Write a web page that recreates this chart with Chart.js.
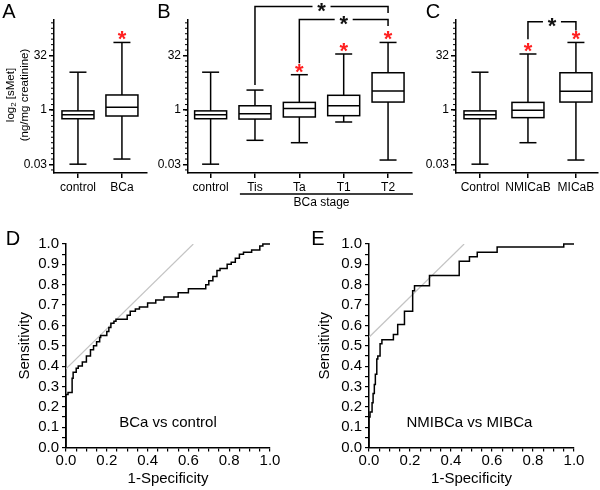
<!DOCTYPE html>
<html>
<head>
<meta charset="utf-8">
<script src="https://cdn.jsdelivr.net/npm/chart.js@4.4.1/dist/chart.umd.min.js"></script>
<style>
  html, body { margin: 0; padding: 0; background: #fff; }
  #fig { position: relative; width: 600px; height: 490px; overflow: hidden; }
  #fig canvas { position: absolute; }
</style>
</head>
<body>
<div id="fig">
  <canvas id="chartA" width="150" height="215" style="left:0;top:0"></canvas>
  <canvas id="chartB" width="282" height="215" style="left:140px;top:0"></canvas>
  <canvas id="chartC" width="176" height="215" style="left:424px;top:0"></canvas>
  <canvas id="chartD" width="300" height="265" style="left:0;top:225px"></canvas>
  <canvas id="chartE" width="300" height="265" style="left:300px;top:225px"></canvas>
</div>
<script>
// sMet in log2 units of ng/mg creatinine, each box = [min, q1, median, q3, max]
const controlBox = [-4.97, -0.8, -0.43, -0.08, 3.47];

const catsA = ['control', 'BCa'];
const boxesA = [controlBox, [-4.5, -0.55, 0.25, 1.38, 6.2]];
const starsA = [1]; // red asterisk = different from control

const catsB = ['control', 'Tis', 'Ta', 'T1', 'T2'];
const boxesB = [
    controlBox,
    [-2.78, -0.83, -0.34, 0.39, 1.83],
    [-3.0, -0.64, 0.15, 0.7, 3.24],
    [-1.1, -0.52, 0.39, 1.35, 5.14],
    [-4.59, 0.73, 1.74, 3.42, 6.2]
];
const starsB = [2, 3, 4];

const catsC = ['Control', 'NMICaB', 'MICaB'];
const boxesC = [
    controlBox,
    [-3.0, -0.7, -0.03, 0.7, 5.14],
    [-4.59, 0.73, 1.72, 3.42, 6.2]
];
const starsC = [1, 2];

// tick labels of the log2 axis (ng/mg)
const yTickValues = [0.03, 1, 32];

// pairwise comparisons: from, to, bracket level, left foot, right foot (log2 units)
const bracketsB = [
    { from: 1, to: 4, level: 9.5, footL: 2.3, footR: 8.9 },
    { from: 2, to: 4, level: 8.3, footL: 4.3, footR: 7.7 }
];
const bracketsC = [
    { from: 1, to: 2, level: 8.1, footL: 6.5, footR: 7.3 }
];

// ROC curves (1-specificity, sensitivity)
const fprD = [0, 0, 0.01, 0.03, 0.035, 0.05, 0.06, 0.08, 0.10, 0.12, 0.135, 0.15, 0.165, 0.17, 0.20, 0.21, 0.22, 0.235, 0.245, 0.30, 0.315, 0.34, 0.36, 0.40, 0.44, 0.48, 0.55, 0.60, 0.62, 0.685, 0.70, 0.72, 0.74, 0.755, 0.79, 0.81, 0.83, 0.85, 0.87, 0.91, 0.95, 0.965, 0.97, 1.0];
const tprD = [0, 0.07, 0.26, 0.27, 0.34, 0.37, 0.39, 0.40, 0.42, 0.45, 0.48, 0.50, 0.52, 0.54, 0.55, 0.57, 0.59, 0.61, 0.62, 0.63, 0.65, 0.67, 0.68, 0.69, 0.71, 0.725, 0.74, 0.76, 0.78, 0.78, 0.80, 0.82, 0.84, 0.87, 0.88, 0.90, 0.91, 0.93, 0.95, 0.96, 0.97, 0.99, 1.0, 1.0];
const refD = { x: [0, 0.624], y: [0.387, 1.0] };

const fprE = [0, 0, 0.005, 0.015, 0.02, 0.026, 0.031, 0.038, 0.043, 0.054, 0.063, 0.119, 0.14, 0.173, 0.213, 0.222, 0.295, 0.44, 0.49, 0.528, 0.625, 0.95, 1.0];
const tprE = [0, 0.076, 0.15, 0.175, 0.22, 0.265, 0.31, 0.36, 0.435, 0.45, 0.51, 0.53, 0.555, 0.605, 0.67, 0.77, 0.795, 0.845, 0.915, 0.937, 0.96, 0.985, 1.0];
const refE = { x: [0, 0.464], y: [0.542, 1.0] };

const FONT = '"Liberation Sans", Arial, Helvetica, sans-serif';
Chart.defaults.font.family = FONT;
Chart.defaults.color = '#000';

const Y_MIN = -5.78, Y_MAX = 8.26;
const BOX_HALF = 16, CAP_HALF = 8.5, STAR_GAP = 6.5;

function line(ctx, x1, y1, x2, y2) {
    ctx.beginPath();
    ctx.moveTo(x1, y1);
    ctx.lineTo(x2, y2);
    ctx.stroke();
}

function star(ctx, x, y, color) {
    ctx.font = 'bold 22px ' + FONT;
    ctx.fillStyle = color;
    ctx.textAlign = 'center';
    ctx.textBaseline = 'alphabetic';
    const m = ctx.measureText('*');
    ctx.fillText('*', x, y + (m.actualBoundingBoxAscent - m.actualBoundingBoxDescent) / 2);
}

function letter(ctx, txt, x, y) {
    ctx.font = '20px ' + FONT;
    ctx.fillStyle = '#000';
    ctx.textAlign = 'center';
    ctx.textBaseline = 'middle';
    ctx.fillText(txt, x, y);
}

function makeBoxChart(id, cats, boxes, stars, brackets, g, decorate) {
    return new Chart(document.getElementById(id), {
        type: 'scatter',
        data: { datasets: [] },
        options: {
            responsive: false,
            animation: false,
            devicePixelRatio: 1,
            layout: { padding: { top: 20, right: g.padRight, left: 0, bottom: 0 } },
            plugins: { legend: { display: false }, tooltip: { enabled: false } },
            scales: {
                x: {
                    type: 'linear', min: g.xMin, max: g.xMax,
                    afterFit: s => { s.height = 42; },
                    afterBuildTicks: s => { s.ticks = cats.map((c, i) => ({ value: i })); },
                    ticks: { callback: (v, i) => cats[i], font: { size: 12 }, padding: 2, maxRotation: 0, autoSkip: false },
                    grid: { drawOnChartArea: false, tickLength: 5, color: '#000', lineWidth: 1.5 },
                    border: { color: '#000', width: 1.5 }
                },
                y: {
                    type: 'linear', min: Y_MIN, max: Y_MAX,
                    afterFit: s => { s.width = g.yW; },
                    afterBuildTicks: s => { s.ticks = yTickValues.map(v => ({ value: Math.log2(v) })); },
                    ticks: { callback: (v, i) => String(yTickValues[i]), font: { size: 12 }, padding: 2 },
                    grid: { drawOnChartArea: false, tickLength: 5, color: '#000', lineWidth: 1.5 },
                    border: { color: '#000', width: 1.5 }
                }
            }
        },
        plugins: [{
            id: 'boxes',
            afterDraw(chart) {
                const { ctx, chartArea: ca, scales: { x, y } } = chart;
                ctx.save();
                ctx.strokeStyle = '#000';
                // minor ticks of the log2 axis
                ctx.lineWidth = 1;
                for (let v = -5.5; v <= 8; v += 0.5) {
                    const py = y.getPixelForValue(v);
                    line(ctx, ca.left - 3, py, ca.left, py);
                }
                ctx.lineWidth = 1.5;
                boxes.forEach((b, i) => {
                    const cx = x.getPixelForValue(i);
                    const [lo, q1, med, q3, hi] = b.map(v => y.getPixelForValue(v));
                    line(ctx, cx, hi, cx, q3);
                    line(ctx, cx, q1, cx, lo);
                    line(ctx, cx - CAP_HALF, hi, cx + CAP_HALF, hi);
                    line(ctx, cx - CAP_HALF, lo, cx + CAP_HALF, lo);
                    ctx.strokeRect(cx - BOX_HALF, q3, BOX_HALF * 2, q1 - q3);
                    line(ctx, cx - BOX_HALF, med, cx + BOX_HALF, med);
                });
                stars.forEach(i => {
                    star(ctx, x.getPixelForValue(i), y.getPixelForValue(boxes[i][4]) - STAR_GAP, '#ff2020');
                });
                brackets.forEach(b => {
                    const xl = x.getPixelForValue(b.from), xr = x.getPixelForValue(b.to);
                    const yt = y.getPixelForValue(b.level), xm = (xl + xr) / 2;
                    ctx.strokeStyle = '#000';
                    ctx.lineWidth = 1.5;
                    ctx.beginPath();
                    ctx.moveTo(xl, y.getPixelForValue(b.footL));
                    ctx.lineTo(xl, yt);
                    ctx.lineTo(xm - 9, yt);
                    ctx.stroke();
                    ctx.beginPath();
                    ctx.moveTo(xm + 9, yt);
                    ctx.lineTo(xr, yt);
                    ctx.lineTo(xr, y.getPixelForValue(b.footR));
                    ctx.stroke();
                    star(ctx, xm, yt + 1, '#111');
                });
                letter(ctx, g.letter, g.lx, 12);
                if (decorate) decorate(ctx, chart);
                ctx.restore();
            }
        }]
    });
}

function makeRocChart(id, fpr, tpr, ref, note, g) {
    const isStep = (v, s) => Math.abs(v / s - Math.round(v / s)) < 1e-6;
    const rocTicks = () => { const t = []; for (let i = 0; i <= 20; i++) t.push({ value: i / 20 }); return t; };
    return new Chart(document.getElementById(id), {
        type: 'line',
        data: {
            datasets: [
                {
                    data: fpr.map((v, i) => ({ x: v, y: tpr[i] })),
                    borderColor: '#000', borderWidth: 1.5, pointRadius: 0, stepped: 'after', clip: 3, order: 0
                },
                {
                    data: ref.x.map((v, i) => ({ x: v, y: ref.y[i] })),
                    borderColor: '#c4c4c4', borderWidth: 1.2, pointRadius: 0, order: 1
                }
            ]
        },
        options: {
            responsive: false,
            animation: false,
            devicePixelRatio: 1,
            layout: { padding: { top: 19, right: g.padRight, left: 0, bottom: 0 } },
            plugins: { legend: { display: false }, tooltip: { enabled: false } },
            scales: {
                x: {
                    type: 'linear', min: 0, max: 1,
                    afterFit: s => { s.height = 42.5; },
                    afterBuildTicks: s => { s.ticks = rocTicks(); },
                    ticks: { callback: v => isStep(v, 0.2) ? v.toFixed(1) : '', font: { size: 15 }, padding: 0, maxRotation: 0, autoSkip: false },
                    grid: { drawOnChartArea: false, tickLength: 4, color: '#000', lineWidth: 1.2 },
                    border: { color: '#000', width: 1.5 },
                    title: { display: true, text: '1-Specificity', font: { size: 15 }, padding: { top: 0, bottom: 2 } }
                },
                y: {
                    type: 'linear', min: 0, max: 1,
                    afterFit: s => { s.width = g.yW; },
                    afterBuildTicks: s => { s.ticks = rocTicks(); },
                    ticks: { callback: v => isStep(v, 0.1) ? v.toFixed(1) : '', font: { size: 15 }, padding: 3, autoSkip: false },
                    grid: { drawOnChartArea: false, tickLength: 4, color: '#000', lineWidth: 1.2 },
                    border: { color: '#000', width: 1.5 },
                    title: { display: true, text: 'Sensitivity', font: { size: 15 }, padding: { top: 16, bottom: 0 } }
                }
            }
        },
        plugins: [{
            id: 'rocNote',
            afterDraw(chart) {
                const { ctx, scales: { x, y } } = chart;
                ctx.save();
                ctx.font = '15px ' + FONT;
                ctx.fillStyle = '#000';
                ctx.textAlign = 'center';
                ctx.textBaseline = 'middle';
                ctx.fillText(note.text, x.getPixelForValue(note.x), y.getPixelForValue(note.y));
                letter(ctx, g.letter, g.lx, 14);
                ctx.restore();
            }
        }]
    });
}

makeBoxChart('chartA', catsA, boxesA, starsA, [], { yW: 54, padRight: 3, xMin: -0.545, xMax: 1.57, letter: 'A', lx: 9 },
    (ctx) => {
        // two-line y title with subscript
        ctx.fillStyle = '#000';
        ctx.textBaseline = 'middle';
        ctx.textAlign = 'left';
        ctx.save();
        ctx.translate(11, 95);
        ctx.rotate(-Math.PI / 2);
        const big = '11.5px ' + FONT, small = '8px ' + FONT;
        ctx.font = big; const w1 = ctx.measureText('log').width, w3 = ctx.measureText(' [sMet]').width;
        ctx.font = small; const w2 = ctx.measureText('2').width;
        let px = -(w1 + w2 + w3) / 2;
        ctx.font = big; ctx.fillText('log', px, 0); px += w1;
        ctx.font = small; ctx.fillText('2', px, 3); px += w2;
        ctx.font = big; ctx.fillText(' [sMet]', px, 0);
        ctx.restore();
        ctx.save();
        ctx.translate(25, 95);
        ctx.rotate(-Math.PI / 2);
        ctx.font = big;
        ctx.textAlign = 'center';
        ctx.fillText('(ng/mg creatinine)', 0, 0);
        ctx.restore();
    });

makeBoxChart('chartB', catsB, boxesB, starsB, bracketsB, { yW: 48, padRight: 10, xMin: -0.51, xMax: 4.54, letter: 'B', lx: 24 },
    (ctx, chart) => {
        const x = chart.scales.x;
        ctx.strokeStyle = '#000';
        ctx.lineWidth = 1.5;
        line(ctx, x.getPixelForValue(0.66), 194, x.getPixelForValue(4.56), 194);
        ctx.font = '12px ' + FONT;
        ctx.fillStyle = '#000';
        ctx.textAlign = 'center';
        ctx.textBaseline = 'middle';
        ctx.fillText('BCa stage', x.getPixelForValue(2.5), 203);
    });

makeBoxChart('chartC', catsC, boxesC, starsC, bracketsC, { yW: 32, padRight: 2, xMin: -0.5, xMax: 2.46, letter: 'C', lx: 9 });

makeRocChart('chartD', fprD, tprD, refD, { text: 'BCa vs control', x: 0.5, y: 0.12 }, { yW: 66, padRight: 30, letter: 'D', lx: 13 });
makeRocChart('chartE', fprE, tprE, refE, { text: 'NMIBCa vs MIBCa', x: 0.49, y: 0.12 }, { yW: 69, padRight: 26, letter: 'E', lx: 18 });
</script>
</body>
</html>
